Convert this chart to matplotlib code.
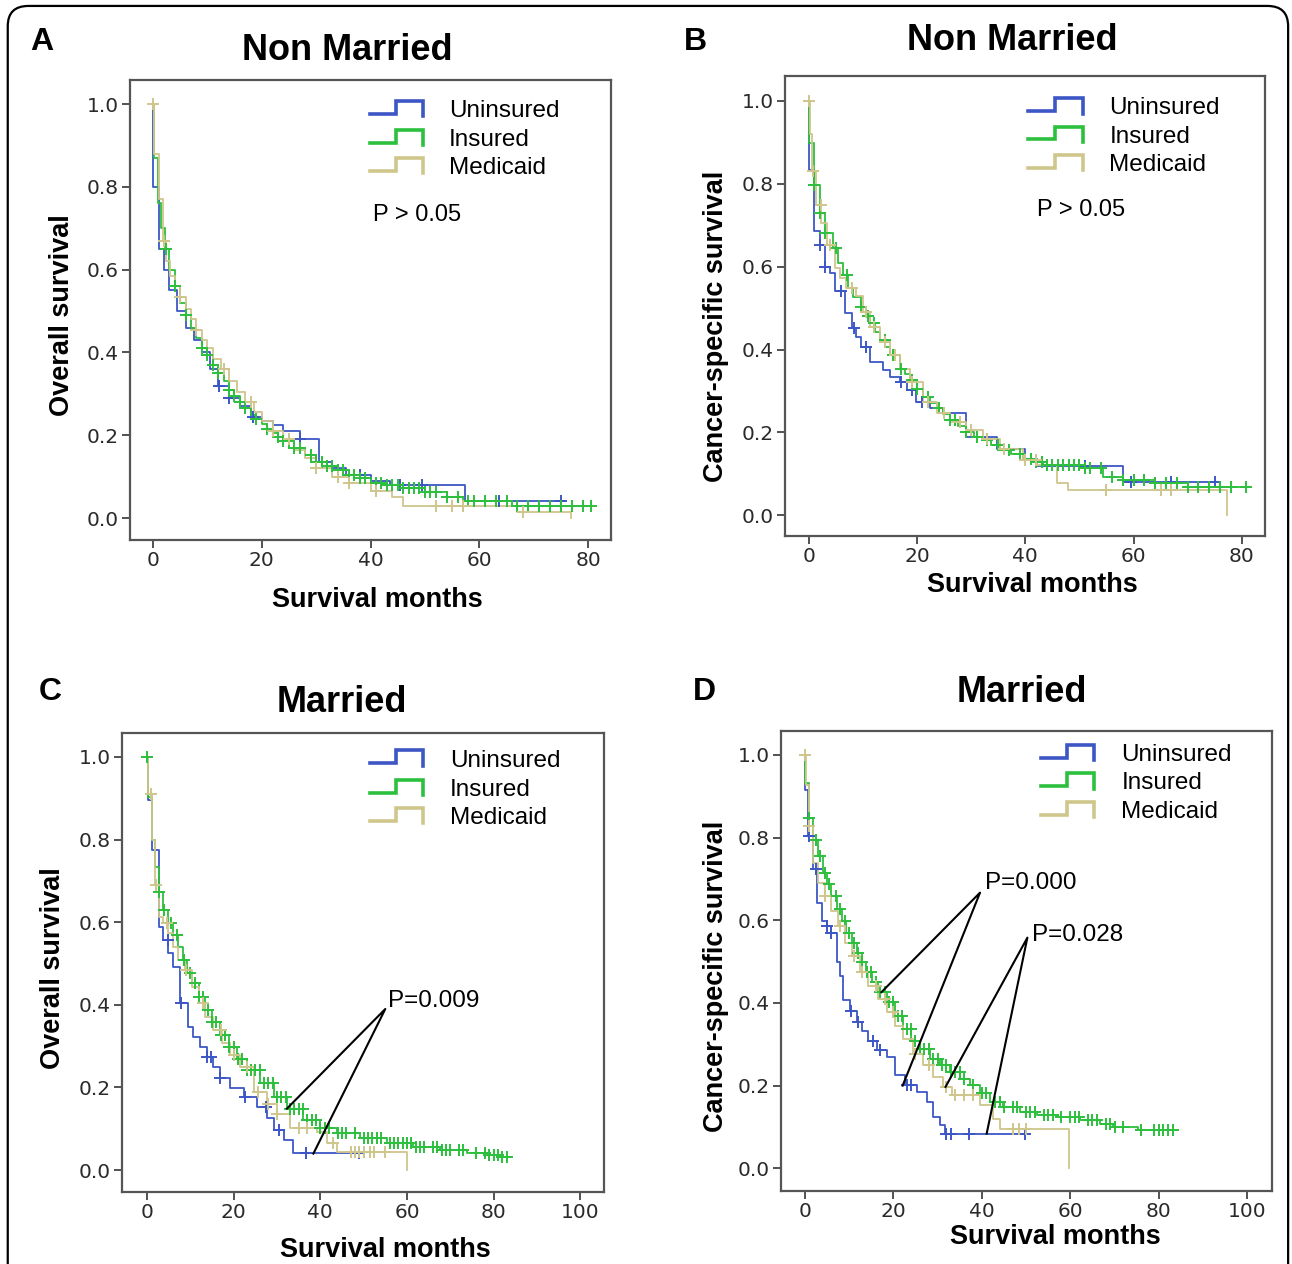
import numpy as np
import matplotlib
matplotlib.use("Agg")
import matplotlib.pyplot as plt
from matplotlib.patches import FancyBboxPatch

plt.rcParams["font.family"] = ["Liberation Sans", "DejaVu Sans"]

BLUE = "#3d56c6"
GREEN = "#2dbf3e"
TAN = "#cfc68c"

# ---- data: step times (months) and survival after each step ----
# Panel A: overall survival, non married
a_unins_t = [0, 0.1, 1.2, 2.0, 3.0, 4.5, 6, 7.5, 9, 10.5, 12, 14, 16, 18, 20, 22, 24, 27, 30.6, 33, 35.5, 40, 43.6, 57.4]
a_unins_s = [1.0, 0.80, 0.65, 0.60, 0.55, 0.50, 0.46, 0.43, 0.40, 0.36, 0.32, 0.29, 0.27, 0.245, 0.235, 0.225, 0.21, 0.19, 0.135, 0.12, 0.105, 0.09, 0.08, 0.04]
a_unins_end = 75.5
a_unins_cens = [12.1, 14, 18.4, 27, 38, 45.4, 49.4, 63.6, 75]

a_ins_t = [0, 0.3, 1.0, 1.5, 2.2, 3, 4, 5, 6, 7, 8, 9, 10, 11, 12, 13, 14, 15, 16, 17, 18, 19, 20, 21, 22, 23, 24,
           26, 28, 30, 32, 34, 36, 38, 40, 43, 46, 50, 54, 57, 66]
a_ins_s = [1.0, 0.87, 0.76, 0.70, 0.65, 0.60, 0.56, 0.52, 0.49, 0.46, 0.435, 0.41, 0.395, 0.37, 0.35, 0.33, 0.31, 0.295,
           0.28, 0.265, 0.25, 0.24, 0.228, 0.215, 0.205, 0.195, 0.185, 0.168, 0.152, 0.135, 0.125, 0.115, 0.105, 0.097,
           0.085, 0.08, 0.072, 0.062, 0.05, 0.04, 0.03]
a_ins_end = 80.5
a_ins_cens = [2.5, 4, 6, 9, 10, 11, 12, 14, 15, 16, 17, 19, 21, 23, 24, 25, 26, 27, 29, 30, 31, 32, 33, 34, 35, 36,
              37, 38, 39, 41, 42, 43, 44, 45, 46, 47, 48, 49, 50, 51, 52, 54, 56, 58, 59, 61, 63, 65, 67, 69, 71, 73,
              75, 77, 79, 80.5]

a_med_t = [0, 0.3, 1.2, 1.9, 2.5, 3.2, 4, 5, 6, 7, 8, 9, 10, 11, 12.5, 14, 15.5, 17, 18.5, 20, 22, 24, 26, 28, 30,
           33, 36, 40, 44, 46, 67, 76.9]
a_med_s = [1.0, 0.88, 0.77, 0.67, 0.62, 0.585, 0.56, 0.535, 0.505, 0.48, 0.455, 0.43, 0.41, 0.385, 0.36, 0.33, 0.305,
           0.28, 0.255, 0.235, 0.21, 0.19, 0.165, 0.145, 0.12, 0.1, 0.085, 0.065, 0.05, 0.028, 0.015, 0.0]
a_med_end = 76.9
a_med_cens = [0, 2, 5, 8, 13, 18, 22, 25, 30, 34, 36, 41, 52, 55, 57, 68]

# Panel B: cancer-specific survival, non married
b_unins_t = [0, 0.1, 0.92, 2.0, 2.96, 3.9, 4.8, 6.65, 7.9, 8.8, 9.7, 11.3, 13.7, 15, 16.8, 18.1, 19.9, 22.4, 24.8,
             29.1, 34.7, 39.9, 42.1, 58.1]
b_unins_s = [1.0, 0.833, 0.686, 0.652, 0.60, 0.584, 0.541, 0.487, 0.451, 0.431, 0.407, 0.37, 0.35, 0.334, 0.322,
             0.302, 0.274, 0.258, 0.246, 0.189, 0.161, 0.137, 0.12, 0.08]
b_unins_end = 75
b_unins_cens = [2.0, 3, 6, 8.3, 10.5, 17, 19, 21, 22, 51, 59.5, 67, 75]

b_ins_t = [0, 0.1, 0.9, 2.0, 3.0, 4.5, 5.4, 6.3, 7.2, 8.2, 9.6, 10.5, 11.3, 12.2, 13.2, 14.1, 15, 16.8, 17.8, 18.7,
           20, 21.1, 22.4, 23.6, 24.8, 26, 27.5, 29, 30.5, 32.1, 33.6, 35.2, 37.3, 39.5, 41.3, 43.2, 50.6, 54.3,
           58, 64, 70]
b_ins_s = [1.0, 0.898, 0.797, 0.729, 0.68, 0.644, 0.608, 0.58, 0.548, 0.527, 0.503, 0.482, 0.463, 0.443, 0.423,
           0.405, 0.386, 0.354, 0.34, 0.326, 0.305, 0.286, 0.272, 0.258, 0.244, 0.23, 0.215, 0.201, 0.19, 0.181,
           0.169, 0.157, 0.147, 0.137, 0.129, 0.121, 0.113, 0.093, 0.085, 0.077, 0.068]
b_ins_end = 80.8
b_ins_cens = [0.9, 2, 3, 5, 7, 9.6, 11, 12, 14, 15.5, 17, 19, 20, 22, 24, 26, 27, 29, 31, 33, 35, 37, 39, 41, 42,
              43, 44, 45, 46, 47, 48, 49, 50, 51, 52, 54, 56, 58, 60, 62, 64, 66, 68, 70, 72, 74, 76, 78, 80.8]

b_med_t = [0, 0.2, 0.68, 1.42, 2.34, 3.27, 4.8, 5.73, 6.96, 8.8, 10.0, 11.3, 13.1, 15, 16.8, 18.7, 21.1, 23.6,
           26.1, 29.1, 32.2, 35.3, 39.6, 42.1, 45.8, 47.9, 77.2]
b_med_s = [1.0, 0.92, 0.83, 0.749, 0.705, 0.652, 0.596, 0.572, 0.548, 0.53, 0.491, 0.455, 0.419, 0.386, 0.354,
           0.322, 0.274, 0.246, 0.226, 0.205, 0.185, 0.161, 0.133, 0.121, 0.077, 0.06, 0.0]
b_med_end = 77.2
b_med_cens = [0, 0.7, 2.3, 4, 8, 10.5, 12, 14, 16, 19, 22, 25, 28, 30, 33, 36, 40, 42, 55, 65, 67]

# Panel C: overall survival, married
c_unins_t = [0, 0.15, 1.1, 2.85, 3.77, 4.93, 6.08, 7.5, 9.5, 10.7, 12.2, 13.8, 15.3, 16.9, 19.2, 22.3, 25.4, 27.7,
             29.2, 31.5, 33.8]
c_unins_s = [1.0, 0.896, 0.775, 0.589, 0.557, 0.525, 0.492, 0.404, 0.347, 0.323, 0.299, 0.274, 0.25, 0.222, 0.198,
             0.177, 0.153, 0.125, 0.097, 0.073, 0.042]
c_unins_end = 49.2
c_unins_cens = [4.9, 7.85, 13.9, 14.8, 16.9, 22.5, 27.5, 30.5, 36.8, 48.9]

c_ins_t = [0, 0.2, 1.08, 1.85, 2.85, 3.77, 4.93, 6.08, 7.24, 8.39, 9.16, 10.3, 11.9, 13.4, 14.9, 16.9, 18.8, 20.7,
           23, 26.1, 29.2, 32.3, 36.1, 40, 43.8, 49.2, 55.4, 61.5, 67.7, 73.8, 78.5, 81.5]
c_ins_s = [1.0, 0.904, 0.799, 0.734, 0.674, 0.63, 0.597, 0.569, 0.541, 0.508, 0.476, 0.452, 0.42, 0.387, 0.359,
           0.327, 0.299, 0.27, 0.242, 0.21, 0.177, 0.149, 0.121, 0.101, 0.089, 0.077, 0.065, 0.056, 0.048, 0.042,
           0.036, 0.031]
c_ins_end = 83.4
c_ins_cens = [0, 2.85, 4, 5.5, 7, 8.5, 10, 11, 12, 13, 14, 15, 16, 17, 18, 19, 20, 21, 22, 23, 24, 25, 26, 27, 28,
              29, 30, 31, 32, 33, 34, 35, 36, 37, 38, 39, 40, 41, 42, 44, 45, 46, 48, 50, 51, 52, 53, 54, 56, 57,
              58, 59, 60, 61, 62, 63, 64, 66, 67, 68, 69, 70, 72, 73, 76, 78, 79, 80, 81, 82, 83]

c_med_t = [0, 0.2, 1.08, 1.85, 2.85, 3.77, 4.93, 6.08, 7.24, 8.78, 10.3, 11.9, 13.4, 15.3, 17.2, 19.2, 21.5, 24.6,
           27.7, 30, 33.1, 39.2, 41.5, 43.8, 60]
c_med_s = [1.0, 0.91, 0.80, 0.69, 0.613, 0.597, 0.573, 0.541, 0.508, 0.484, 0.444, 0.404, 0.371, 0.339, 0.307,
           0.278, 0.25, 0.19, 0.161, 0.137, 0.101, 0.093, 0.065, 0.044, 0.0]
c_med_end = 60
c_med_cens = [1.0, 2, 4.5, 9, 13, 17, 20, 23, 25.6, 28, 30, 35, 37, 43, 47, 48, 49, 50, 51.5, 52.5, 55]

# Panel D: cancer-specific survival, married
d_unins_t = [0, 0.1, 0.8, 1.9, 2.8, 3.8, 4.9, 6.0, 7.2, 7.9, 8.7, 10.2, 11.7, 12.8, 14.3, 16.2, 18.5, 20.4, 22.6,
             25.3, 27.5, 29.0, 30.5, 31.7]
d_unins_s = [1.0, 0.916, 0.803, 0.723, 0.643, 0.598, 0.586, 0.57, 0.498, 0.466, 0.406, 0.381, 0.353, 0.333, 0.309,
             0.285, 0.269, 0.225, 0.201, 0.185, 0.161, 0.125, 0.104, 0.084]
d_unins_end = 49.8
d_unins_cens = [0.9, 2.5, 5, 6, 10.5, 12, 15.5, 17, 23, 24, 31.8, 33, 37, 49.8]

d_ins_t = [0, 0.1, 1.0, 1.9, 3.0, 4.0, 4.9, 6.0, 7.2, 8.3, 9.4, 10.6, 11.7, 12.8, 13.9, 15.1, 16.6, 18.5, 20.4,
           22.2, 24.1, 26.0, 28.3, 30.5, 32.8, 35.1, 37.3, 39.6, 41.9, 44.9, 48.6, 52.4, 56.9, 62.2, 66.7, 69.7, 75.4]
d_ins_s = [1.0, 0.932, 0.847, 0.795, 0.755, 0.715, 0.687, 0.659, 0.627, 0.598, 0.57, 0.546, 0.522, 0.498, 0.474,
           0.45, 0.426, 0.402, 0.369, 0.337, 0.309, 0.289, 0.265, 0.249, 0.233, 0.217, 0.201, 0.181, 0.161, 0.149,
           0.137, 0.128, 0.124, 0.116, 0.108, 0.1, 0.092]
d_ins_end = 83.3
d_ins_cens = [1.0, 2.5, 3.5, 4.5, 5.5, 7, 8, 9, 10, 11, 12, 13, 14, 15, 16, 17, 18, 19, 20, 21, 22, 23, 24, 25, 26,
              27, 28, 29, 30, 31, 32, 33, 34, 35, 36, 38, 40, 41, 43, 44, 45, 47, 48, 50, 51, 52, 54, 55, 56, 58,
              60, 61, 62, 64, 65, 66, 68, 69, 70, 72, 76, 79, 80, 81, 82, 83.3]

d_med_t = [0, 0.2, 1.0, 1.9, 3.0, 4.5, 6.0, 7.5, 9.0, 10.6, 12.4, 14.3, 16.6, 18.5, 20.4, 22.2, 24.5, 26.8, 29.0,
           31.3, 33.2, 39.6, 42.6, 44.1, 59.8]
d_med_s = [1.0, 0.928, 0.827, 0.739, 0.691, 0.659, 0.622, 0.586, 0.546, 0.514, 0.474, 0.442, 0.41, 0.378, 0.345,
           0.313, 0.277, 0.249, 0.221, 0.197, 0.177, 0.153, 0.12, 0.096, 0.0]
d_med_end = 59.8
d_med_cens = [0, 1.0, 4.5, 8, 11, 13, 16, 18, 20, 25, 28, 32, 34, 36, 38, 47, 48.5, 50]

groups = ["Uninsured", "Insured", "Medicaid"]
colors = [BLUE, GREEN, TAN]

panels = [
    dict(letter="A", title="Non Married", ylabel="Overall survival", pval="P > 0.05",
         curves=[(a_unins_t, a_unins_s, a_unins_end, a_unins_cens),
                 (a_ins_t, a_ins_s, a_ins_end, a_ins_cens),
                 (a_med_t, a_med_s, a_med_end, a_med_cens)],
         xticks=[0, 20, 40, 60, 80]),
    dict(letter="B", title="Non Married", ylabel="Cancer-specific survival", pval="P > 0.05",
         curves=[(b_unins_t, b_unins_s, b_unins_end, b_unins_cens),
                 (b_ins_t, b_ins_s, b_ins_end, b_ins_cens),
                 (b_med_t, b_med_s, b_med_end, b_med_cens)],
         xticks=[0, 20, 40, 60, 80]),
    dict(letter="C", title="Married", ylabel="Overall survival", pval=None,
         curves=[(c_unins_t, c_unins_s, c_unins_end, c_unins_cens),
                 (c_ins_t, c_ins_s, c_ins_end, c_ins_cens),
                 (c_med_t, c_med_s, c_med_end, c_med_cens)],
         xticks=[0, 20, 40, 60, 80, 100]),
    dict(letter="D", title="Married", ylabel="Cancer-specific survival", pval=None,
         curves=[(d_unins_t, d_unins_s, d_unins_end, d_unins_cens),
                 (d_ins_t, d_ins_s, d_ins_end, d_ins_cens),
                 (d_med_t, d_med_s, d_med_end, d_med_cens)],
         xticks=[0, 20, 40, 60, 80, 100]),
]

# layout (figure fractions)
W, H = 1292, 1264
axes_px = {"A": (130, 80, 611, 540), "B": (785, 76, 1265, 536),
           "C": (122, 733, 604, 1192), "D": (781, 731, 1272, 1191)}
xlims = {"A": (-4.2, 84.2), "B": (-4.4, 84.3), "C": (-5.8, 105.5), "D": (-5.4, 105.6)}
ylims = {"A": (-0.053, 1.058), "B": (-0.05, 1.06), "C": (-0.053, 1.058), "D": (-0.055, 1.058)}
title_px = {"A": (347, 50), "B": (1012, 41), "C": (342, 703), "D": (1022, 692)}
letter_px = {"A": (42, 42), "B": (695, 42), "C": (50, 692), "D": (704, 692)}
ylabel_px = {"A": (62, 315), "B": (716, 326), "C": (53, 968), "D": (716, 976)}
xlabel_px = {"A": (377, 600), "B": (1032, 585), "C": (385, 1250), "D": (1055, 1237)}
legend_pos = {"A": (0.498, 0.610, 0.6625, [0.933, 0.870, 0.809]),
              "B": (0.506, 0.620, 0.676, [0.930, 0.868, 0.807]),
              "C": (0.514, 0.624, 0.680, [0.940, 0.876, 0.815]),
              "D": (0.529, 0.637, 0.693, [0.948, 0.886, 0.824])}
pval_pos = {"A": (0.505, 0.707), "B": (0.524, 0.709)}

# P-value callouts in panels C and D (data coordinates of the leader lines)
callouts = {
    "C": [("P=0.009", [32.3, 55.0, 38.4], [0.149, 0.39, 0.04], (55.7, 0.41))],
    "D": [("P=0.000", [17.3, 39.6, 22.1], [0.426, 0.667, 0.20], (40.7, 0.69)),
          ("P=0.028", [31.8, 50.3, 41.1], [0.197, 0.558, 0.084], (51.4, 0.565))],
}


def fx(x):
    return x / W


def fy(y):
    return 1 - y / H


fig = plt.figure(figsize=(W / 100, H / 100), dpi=100)

frame = FancyBboxPatch((0.006, -0.05), 0.991, 1.0453, boxstyle="round,pad=0,rounding_size=0.016",
                       transform=fig.transFigure, fill=False, edgecolor="black", linewidth=1.6)
fig.patches.append(frame)

for p in panels:
    key = p["letter"]
    l, t, r, b = axes_px[key]
    ax = fig.add_axes([fx(l), fy(b), (r - l) / W, (b - t) / H])

    for (tt, ss, end, cens), col in zip(p["curves"], colors):
        tt = np.asarray(tt, float)
        ss = np.asarray(ss, float)
        xs = np.append(tt, end)
        ys = np.append(ss, ss[-1])
        ax.step(xs, ys, where="post", color=col, lw=1.3, zorder=3)
        cens = np.asarray(cens, float)
        idx = np.searchsorted(tt, cens, side="right") - 1
        ax.plot(cens, ss[idx], linestyle="none", marker="+", ms=8, mew=1.4, color=col, zorder=4)

    ax.set_xlim(*xlims[key])
    ax.set_ylim(*ylims[key])
    ax.set_xticks(p["xticks"])
    ax.set_yticks([0, 0.2, 0.4, 0.6, 0.8, 1.0])
    ax.set_yticklabels([f"{v:.1f}" for v in [0, 0.2, 0.4, 0.6, 0.8, 1.0]])
    ax.tick_params(direction="out", length=6, width=1.3, color="#444", pad=2,
                   labelsize=14.5, labelcolor="#2a2a2a")
    for lab in ax.get_xticklabels() + ax.get_yticklabels():
        lab.set_family("DejaVu Sans")
    for s in ax.spines.values():
        s.set_color("#555555")
        s.set_linewidth(1.6)

    # legend with step-shaped keys
    x0, x1, xt, rows = legend_pos[key]
    xm = (x0 + x1) / 2
    for name, col, yr in zip(groups, colors, rows):
        lo, hi = yr - 0.006, yr + 0.022
        ax.plot([x0, xm, xm, x1, x1], [lo, lo, hi, hi, lo - 0.006], color=col, lw=2.6,
                transform=ax.transAxes, clip_on=False, solid_joinstyle="miter")
        ax.text(xt, yr, name, transform=ax.transAxes, fontsize=17.5, va="center", ha="left")

    if p["pval"]:
        px, py = pval_pos[key]
        ax.text(px, py, p["pval"], transform=ax.transAxes, fontsize=17, va="center", ha="left")

    for label, lx, ly, (tx, ty) in callouts.get(key, []):
        ax.plot(lx, ly, color="black", lw=1.5, zorder=5)
        ax.text(tx, ty, label, fontsize=17.5, va="center", ha="left")

    fig.text(fx(title_px[key][0]), fy(title_px[key][1]), p["title"], fontsize=26, fontweight="bold",
             ha="center", va="center")
    fig.text(fx(letter_px[key][0]), fy(letter_px[key][1]), key, fontsize=23, fontweight="bold",
             ha="center", va="center")
    fig.text(fx(ylabel_px[key][0]), fy(ylabel_px[key][1]), p["ylabel"], fontsize=19.5, fontweight="bold",
             rotation=90, ha="center", va="center")
    fig.text(fx(xlabel_px[key][0]), fy(xlabel_px[key][1]), "Survival months", fontsize=19.5,
             fontweight="bold", ha="center", va="center")

fig.savefig("out.png", dpi=100)
